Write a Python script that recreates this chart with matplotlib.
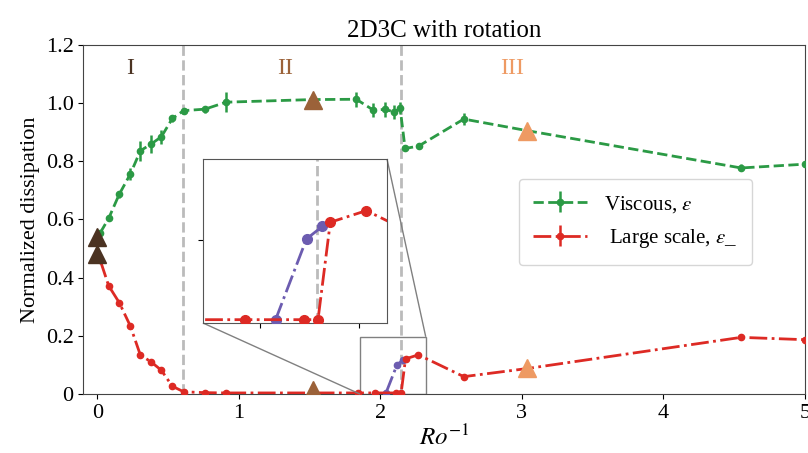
import numpy as np
import matplotlib
matplotlib.use('Agg')
import matplotlib.pyplot as plt
from mpl_toolkits.axes_grid1.inset_locator import mark_inset

plt.rcParams['font.family'] = ['Liberation Serif', 'DejaVu Serif']
plt.rcParams['mathtext.fontset'] = 'stix'

# Data
ro_visc = [0.02, 0.08, 0.155, 0.233, 0.304, 0.379, 0.452, 0.53, 0.61, 0.76,
           0.91, 1.52, 1.83, 1.95, 2.03, 2.10, 2.14, 2.175, 2.27, 2.59, 3.04, 4.55, 5.0]
eps_visc = [0.554, 0.604, 0.687, 0.756, 0.836, 0.859, 0.884, 0.947, 0.974, 0.979,
            1.003, 1.012, 1.013, 0.976, 0.978, 0.97, 0.982, 0.844, 0.852, 0.945, 0.905, 0.777, 0.79]
err_visc = [0.01, 0.01, 0.012, 0.02, 0.035, 0.03, 0.025, 0.012, 0.008, 0.012,
            0.035, 0.01, 0.025, 0.025, 0.025, 0.025, 0.02, 0.01, 0.01, 0.02, 0.01, 0.012, 0.0]

ro_large = [0.02, 0.08, 0.155, 0.233, 0.304, 0.379, 0.452, 0.53, 0.61, 0.76,
            0.91, 1.52, 1.84, 1.962, 2.112, 2.147, 2.178, 2.269, 2.59, 3.04, 4.55, 5.0]
eps_large = [0.46, 0.372, 0.314, 0.234, 0.134, 0.111, 0.082, 0.027, 0.008, 0.005,
             0.004, 0.004, 0.004, 0.004, 0.004, 0.004, 0.121, 0.135, 0.06, 0.088, 0.195, 0.187]

ro_purple = [2.040, 2.118, 2.158]
eps_purple = [0.004, 0.101, 0.116]

tri_ro = [0.0, 0.0, 1.523, 1.523, 3.04, 3.04]
tri_eps = [0.54, 0.48, 1.012, 0.015, 0.905, 0.09]
tri_col = ['#4b3322', '#4b3322', '#9b6239', '#9b6239', '#ee9a63', '#ee9a63']

regions = ['I', 'II', 'III']
region_x = [0.23, 1.33, 2.93]
region_col = ['#4b3322', '#9b6239', '#ee9a63']
borders = [0.605, 2.145]

GREEN = '#2b9a45'
RED = '#dd2a24'
PURPLE = '#6c5cb0'

fig = plt.figure(figsize=(8.08, 4.53), dpi=100)
ax = fig.add_axes([0.103, 0.130, 0.893, 0.771])


def draw(a, ms=4.5, elw=1.8):
    a.errorbar(ro_visc, eps_visc, yerr=err_visc, color=GREEN, ls='--', lw=2,
               marker='o', ms=ms, elinewidth=elw, label='Viscous, $\\varepsilon$', zorder=3)
    a.errorbar(ro_large, eps_large, yerr=[0.004] * len(ro_large), color=RED, ls='-.', lw=2,
               marker='o', ms=ms, elinewidth=elw, label=' Large scale, $\\varepsilon$_', zorder=3)
    a.plot(ro_purple, eps_purple, color=PURPLE, ls='-.', lw=2, marker='o', ms=ms, zorder=3)
    for b in borders:
        a.axvline(b, color='#bbbbbb', ls='--', lw=2, zorder=1)


draw(ax)
for x, y, c in zip(tri_ro, tri_eps, tri_col):
    ax.plot(x, y, marker='^', ms=13, color=c, ls='none', zorder=4)
for r, x, c in zip(regions, region_x, region_col):
    ax.text(x, 1.12, r, color=c, fontsize=17, ha='center', va='center')

ax.set_xlim(-0.1, 5)
ax.set_ylim(0, 1.2)
ax.set_xticks([0, 1, 2, 3, 4, 5])
ax.set_yticks([0, 0.2, 0.4, 0.6, 0.8, 1.0, 1.2])
ax.set_yticklabels(['0', '0.2', '0.4', '0.6', '0.8', '1.0', '1.2'])
ax.tick_params(labelsize=16)
ax.set_xlabel('$Ro^{-1}$', fontsize=18, labelpad=1)
ax.set_ylabel('Normalized dissipation', fontsize=16)
ax.set_title('2D3C with rotation', fontsize=18)
for s in ax.spines.values():
    s.set_color('#444444')

ax.legend(loc='center', bbox_to_anchor=(0.765, 0.493), fontsize=15,
          handlelength=2.6, labelspacing=0.6, borderpad=0.7)

# inset zoom
axins = fig.add_axes([203 / 808, 1 - 323 / 453, 184 / 808, 164 / 453])
draw(axins, ms=7)
axins.set_xlim(1.857, 2.321)
axins.set_ylim(0, 0.197)
axins.set_xticks([2.0, 2.25])
axins.set_yticks([0.1])
axins.set_xticklabels([])
axins.set_yticklabels([])
for s in axins.spines.values():
    s.set_color('#555555')
mark_inset(ax, axins, loc1=1, loc2=3, fc='none', ec='0.5', lw=1)

fig.savefig('out.png', dpi=100)
